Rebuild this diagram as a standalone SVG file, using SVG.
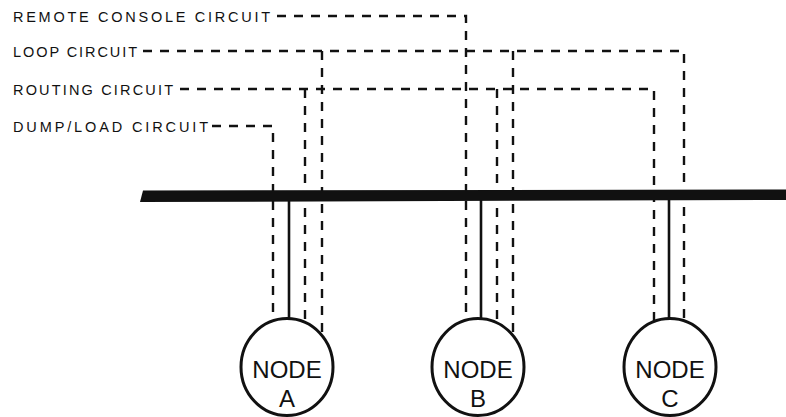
<svg xmlns="http://www.w3.org/2000/svg" width="786" height="417" viewBox="0 0 786 417">
<style>
  .lbl { font-family: "Liberation Sans", Arial, sans-serif; font-size: 14.5px; fill: #111; }
  .ntxt { font-family: "Liberation Sans", Arial, sans-serif; font-size: 24px; fill: #111; text-anchor: middle; }
  .dash { fill: none; stroke: #111; stroke-width: 2.4; stroke-dasharray: 9 8; }
  .solid { fill: none; stroke: #111; stroke-width: 2.6; }
  .node { fill: #fff; stroke: #111; stroke-width: 3; }
</style>
<rect width="786" height="417" fill="#fff"/>
<g id="labels">
  <text class="lbl" x="13" y="21.5" textLength="257" lengthAdjust="spacing">REMOTE CONSOLE CIRCUIT</text>
  <text class="lbl" x="13" y="57" textLength="124" lengthAdjust="spacing">LOOP CIRCUIT</text>
  <text class="lbl" x="13" y="95" textLength="160" lengthAdjust="spacing">ROUTING CIRCUIT</text>
  <text class="lbl" x="13" y="131.5" textLength="195" lengthAdjust="spacing">DUMP/LOAD CIRCUIT</text>
</g>
<g id="connectors">
  <path class="dash" d="M277,16 H466 V330"/>
  <path class="dash" d="M143,51 H684 V330"/>
  <path class="dash" d="M322,51 V340"/>
  <path class="dash" d="M513,51 V340"/>
  <path class="dash" d="M180,89 H654 V330"/>
  <path class="dash" d="M305,89 V330"/>
  <path class="dash" d="M497,89 V330"/>
  <path class="dash" d="M212,126 H273 V330"/>
  <path class="solid" d="M289,198 V325"/>
  <path class="solid" d="M481,198 V325"/>
  <path class="solid" d="M669,198 V325"/>
</g>
<g id="bus">
  <polygon points="143,190.5 786,189.5 786,200 140,202" fill="#111"/>
</g>
<g id="node-a">
  <ellipse class="node" cx="287" cy="367" rx="46" ry="48.5"/>
  <text class="ntxt" x="287" y="378">NODE</text>
  <text class="ntxt" x="287" y="407">A</text>
</g>
<g id="node-b">
  <ellipse class="node" cx="478" cy="367" rx="46" ry="48.5"/>
  <text class="ntxt" x="478" y="378">NODE</text>
  <text class="ntxt" x="478" y="407">B</text>
</g>
<g id="node-c">
  <ellipse class="node" cx="670" cy="367" rx="46" ry="48.5"/>
  <text class="ntxt" x="670" y="378">NODE</text>
  <text class="ntxt" x="670" y="407">C</text>
</g>
</svg>
